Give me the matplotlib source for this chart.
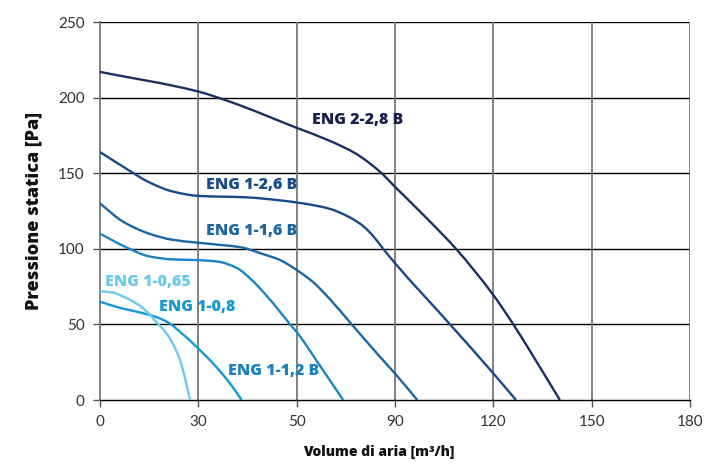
import numpy as np
import matplotlib
matplotlib.use("Agg")
import matplotlib.pyplot as plt
from matplotlib.path import Path
from matplotlib.patches import PathPatch

plt.rcParams['font.family'] = ['Lato', 'DejaVu Sans']

# asse x: griglia regolare, etichette come nel grafico originale
x_ticks = [0, 30, 60, 90, 120, 150, 180]
x_labels = ["0", "30", "50", "90", "120", "150", "180"]
y_ticks = [0, 50, 100, 150, 200, 250]

# curve (x in unita' di griglia, y in Pa)
eng228_x = [0, 30, 40, 60, 70, 78, 85.4, 90, 100, 108.6, 120, 126.1, 133, 140.3]
eng228_y = [217, 204, 197, 180, 171.5, 163, 151, 141, 119.5, 100, 69.4, 50, 26, 0]

eng126_x = [0, 8, 15, 22, 30, 45, 55, 62, 70, 76, 80.3, 83.5, 86.4, 90, 106.8, 120, 126.9]
eng126_y = [164, 153, 144, 138, 135, 134, 132, 130, 126.5, 121, 115, 108, 100, 90.5, 50, 17.6, 0]

eng116_x = [0, 7, 15, 22, 30, 37, 43, 49, 55, 60, 65, 70, 76.8, 85.4, 90, 96.8]
eng116_y = [130, 118, 110, 106, 104, 102.5, 101, 97, 92.5, 86, 78, 67, 50, 28.6, 17.5, 0]

eng112_x = [0, 8, 15, 22, 30, 36, 42, 46, 50, 54.9, 58, 60, 67, 74.2]
eng112_y = [110, 101, 95, 93, 92.5, 91.5, 87, 80, 71, 58.4, 50, 45, 23, 0]

eng108_x = [0, 6, 12, 17, 21, 25, 30, 35, 40, 43.2]
eng108_y = [65, 61, 58, 55, 51, 44, 34, 23, 10, 0]

eng1065_x = [0, 4, 7, 11, 14, 17, 20.3, 22.5, 24.4, 27.5]
eng1065_y = [72, 71, 68.5, 64, 59, 52, 44, 36, 26.5, 0]

curve_x = [eng228_x, eng126_x, eng116_x, eng112_x, eng108_x, eng1065_x]
curve_y = [eng228_y, eng126_y, eng116_y, eng112_y, eng108_y, eng1065_y]
nomi = ["ENG 2-2,8 B", "ENG 1-2,6 B", "ENG 1-1,6 B", "ENG 1-1,2 B", "ENG 1-0,8", "ENG 1-0,65"]
colori = ["#1c2f63", "#174a88", "#1b67a6", "#1a85c4", "#1299d6", "#6ccaf0"]
colori_testo = ["#1a1f4f", "#1c4b8c", "#1d66a6", "#1a82c2", "#1599d6", "#6ccaf0"]
pos_testo = [(64.7, 185), (32.3, 142), (32.3, 111.6), (39, 19), (18, 61.5), (1.5, 78)]


def curva_liscia(xs, ys):
    # tratti di Bezier cubici con tangenti monotone (Fritsch-Carlson)
    x = np.asarray(xs, float)
    y = np.asarray(ys, float)
    h = np.diff(x)
    d = np.diff(y) / h
    m = np.zeros_like(x)
    m[0] = d[0]
    m[-1] = d[-1]
    for i in range(1, len(x) - 1):
        if d[i-1] * d[i] <= 0:
            m[i] = 0
        else:
            w1 = 2*h[i] + h[i-1]
            w2 = h[i] + 2*h[i-1]
            m[i] = (w1 + w2) / (w1/d[i-1] + w2/d[i])
    verts = [(x[0], y[0])]
    codes = [Path.MOVETO]
    for i in range(len(x) - 1):
        verts += [(x[i] + h[i]/3, y[i] + m[i]*h[i]/3),
                  (x[i+1] - h[i]/3, y[i+1] - m[i+1]*h[i]/3),
                  (x[i+1], y[i+1])]
        codes += [Path.CURVE4] * 3
    return Path(verts, codes)


fig = plt.figure(figsize=(7.06, 4.68), dpi=100)
ax = fig.add_axes([100/706, 1-400/468, 590/706, 378/468])

for xs, ys, c in zip(curve_x, curve_y, colori):
    ax.add_patch(PathPatch(curva_liscia(xs, ys), fill=False, edgecolor=c,
                           lw=1.7, capstyle='butt', zorder=3))

for nome, (tx, ty), c in zip(nomi, pos_testo, colori_testo):
    ax.text(tx, ty, nome, color=c, fontsize=11.5, fontweight='heavy',
            family=['Open Sans', 'DejaVu Sans'],
            va='center', ha='left', zorder=4)

ax.set_xlim(0, 180)
ax.set_ylim(0, 250)
ax.set_xticks(x_ticks)
ax.set_xticklabels(x_labels)
ax.set_yticks(y_ticks)

for yv in y_ticks[1:]:
    ax.axhline(yv, color='black', lw=1.0, zorder=1)
for xv in x_ticks[1:]:
    ax.axvline(xv, color='#777777', lw=1.3, zorder=1)

for s in ['top', 'right']:
    ax.spines[s].set_visible(False)
ax.spines['left'].set_color('#777777')
ax.spines['left'].set_linewidth(1.3)
ax.spines['bottom'].set_color('black')
ax.spines['bottom'].set_linewidth(1.0)

ax.tick_params(axis='both', direction='out', length=5, width=1.0,
               colors='#555555', labelcolor='#333333', labelsize=11, pad=6)

ax.set_xlabel("Volume di aria [m³/h]", fontsize=10, fontweight='heavy',
              family=['Open Sans', 'DejaVu Sans'], color='#111111')
ax.xaxis.set_label_coords(0.473, -0.118)
ax.set_ylabel("Pressione statica [Pa]", fontsize=13, fontweight='heavy',
              family=['Open Sans', 'DejaVu Sans'], color='#111111')
ax.yaxis.set_label_coords(-0.098, 0.5)

fig.savefig("out.png", dpi=100)
